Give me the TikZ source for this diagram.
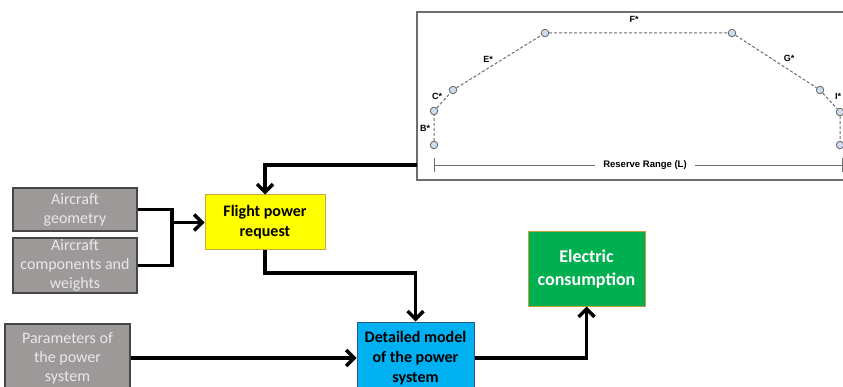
\documentclass[tikz,border=0pt]{standalone}
\usepackage{fontspec}
\setmainfont{Carlito}
\newfontfamily\chartfont{Liberation Sans}
\usetikzlibrary{arrows.meta,positioning}

\definecolor{inputgray}{RGB}{158,153,153}
\definecolor{inputtext}{RGB}{232,232,232}
\definecolor{inputedge}{RGB}{70,70,70}
\definecolor{flightyellow}{RGB}{255,255,0}
\definecolor{yellowedge}{RGB}{200,170,60}
\definecolor{modelblue}{RGB}{0,176,240}
\definecolor{blueedge}{RGB}{40,90,140}
\definecolor{powergreen}{RGB}{0,176,80}
\definecolor{greenedge}{RGB}{190,160,60}
\definecolor{chartgray}{RGB}{110,110,110}
\definecolor{pointblue}{RGB}{205,220,240}

\begin{document}
\begin{tikzpicture}[x=1pt, y=-1pt,
  inputbox/.style={draw=inputedge, line width=1.3pt, fill=inputgray, text=inputtext, align=center, inner sep=0pt, font=\fontsize{16}{19}\selectfont},
  stagebox/.style={line width=1pt, align=center, inner sep=0pt, font=\bfseries\fontsize{16}{20}\selectfont},
  flow/.style={line width=3.5pt, -{Straight Barb[length=8pt,width=16pt]}},
  link/.style={line width=3.5pt},
  waypoint/.style={circle, draw=chartgray, fill=pointblue, line width=0.9pt, minimum size=7.5pt, inner sep=0pt},
  leg/.style={draw=chartgray, dash pattern=on 3pt off 2pt, line width=1pt},
  tag/.style={font=\chartfont\bfseries\fontsize{9}{10}\selectfont, inner sep=0pt}]
\useasboundingbox (0,0) rectangle (843,387);

% Define the entities
\node (geometry) at (75,209.5) [inputbox, minimum width=124pt, minimum height=43pt] {Aircraft\\geometry};
\node (components) at (75,265.5) [inputbox, minimum width=124pt, minimum height=55pt] {Aircraft\\components and\\weights};
\node (params) at (67.5,358) [inputbox, minimum width=125pt, minimum height=68pt] {Parameters of\\the power\\system};
\node (flight) at (265,222.5) [stagebox, draw=yellowedge, fill=flightyellow, minimum width=120pt, minimum height=55pt] {Flight power\\request};
\node (model) at (415.5,358) [stagebox, draw=blueedge, fill=modelblue, minimum width=117pt, minimum height=72pt] {Detailed model\\of the power\\system};
\node (power) at (586.5,269) [stagebox, draw=greenedge, fill=powergreen, text=white, minimum width=117pt, minimum height=74pt, font=\bfseries\fontsize{18}{23}\selectfont] {Electric\\consumption};

% Mission profile
\node (profile) at (631,96) [draw=chartgray, line width=1.5pt, fill=white, minimum width=428pt, minimum height=168pt] {};
\node (pb0) at (434,145) [waypoint] {};
\node (pb1) at (434,111) [waypoint] {};
\node (pc) at (453,90) [waypoint] {};
\node (pe) at (545,33) [waypoint] {};
\node (pf) at (732,33) [waypoint] {};
\node (pg) at (820,90) [waypoint] {};
\node (pi) at (840,112) [waypoint] {};
\node (pi0) at (840,145) [waypoint] {};
\draw [leg] (pb0) -- (pb1) -- (pc) -- (pe) -- (pf) -- (pg) -- (pi) -- (pi0);

\node (tagb) at (425,128) [tag] {B*};
\node (tagc) at (437,96) [tag] {C*};
\node (tage) at (488,59) [tag] {E*};
\node (tagf) at (634,19) [tag] {F*};
\node (tagg) at (789,58) [tag] {G*};
\node (tagi) at (838,96) [tag] {I*};

% Reserve range
\coordinate (rl) at (434,165);
\coordinate (rr) at (842,165);
\draw [chartgray, line width=0.9pt] (rl) -- (rr);
\draw [chartgray, line width=0.9pt] ([yshift=7pt]rl) -- ([yshift=-7pt]rl);
\draw [chartgray, line width=0.9pt] ([yshift=7pt]rr) -- ([yshift=-7pt]rr);
\node (range) at (645,165) [fill=white, inner xsep=8pt, font=\chartfont\bfseries\fontsize{9.5}{10}\selectfont] {Reserve Range (L)};

% Connectors
\coordinate (feed) at (417,165);
\draw [flow] (feed) -| (flight.north);
\coordinate (join) at (172,222.5);
\draw [link] (geometry.east) -| (join);
\draw [link] (components.east) -| (join);
\draw [flow] (join) -- (flight.west);
\coordinate (bend) at (415.5,273);
\draw [flow] (flight.south) |- (bend) -- (model.north);
\draw [flow] (params.east) -- (model.west);
\draw [flow] (model.east) -| (power.south);
\end{tikzpicture}
\end{document}
